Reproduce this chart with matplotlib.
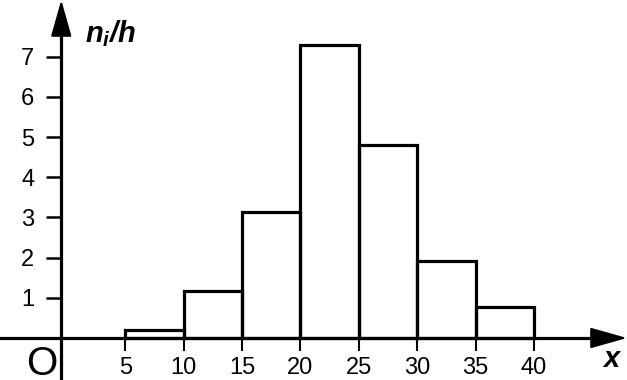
import matplotlib
matplotlib.use('Agg')
import matplotlib.pyplot as plt
import numpy as np

# histogram data
edges = [5, 10, 15, 20, 25, 30, 35, 40]
heights = [0.2, 1.18, 3.13, 7.3, 4.8, 1.92, 0.76]
yticks = [1, 2, 3, 4, 5, 6, 7]

plt.rcParams['font.family'] = ['Liberation Sans', 'DejaVu Sans']
plt.rcParams['mathtext.fontset'] = 'custom'
plt.rcParams['mathtext.it'] = 'Liberation Sans:bold:italic'
plt.rcParams['mathtext.rm'] = 'Liberation Sans:bold:italic'

fig = plt.figure(figsize=(6.27, 3.8), dpi=100)
ax = fig.add_axes([0, 0, 1, 1])
ax.patch.set_alpha(0)

ax.set_xlim(-5.75, 47.98)
ax.set_ylim(-1.045, 8.41)

ax.bar(edges[:-1], heights, width=np.diff(edges), align='edge',
       fill=False, edgecolor='black', linewidth=2.3)

for s in ['top', 'right']:
    ax.spines[s].set_visible(False)
ax.spines['left'].set_position(('data', -0.5))
ax.spines['bottom'].set_position(('data', 0))
ax.spines['left'].set_linewidth(2.3)
ax.spines['bottom'].set_linewidth(2.3)
ax.spines['left'].set_bounds(-1.045, 7.8)
ax.spines['bottom'].set_bounds(-5.75, 45.5)

ax.set_xticks(edges)
ax.set_yticks(yticks)
ax.tick_params(axis='x', direction='out', length=9, width=1.5, pad=5, labelsize=17)
ax.tick_params(axis='y', direction='out', length=10.5, width=1.8, pad=9, labelsize=17)

arrow = dict(arrowstyle='-|>,head_length=2.3,head_width=0.65', color='black',
             lw=1.5, shrinkA=0, shrinkB=0, mutation_scale=10)
ax.annotate('', xy=(-0.5, 8.41), xytext=(-0.5, 7.6), arrowprops=arrow)
ax.annotate('', xy=(47.98, 0), xytext=(45, 0), arrowprops=arrow)

ax.text(-2.19, -0.93, 'O', fontsize=29, ha='center', va='baseline')
ax.text(46.7, -0.72, r'$x$', fontsize=21, ha='center', va='baseline')
ax.text(1.53, 7.36, r'$n_i\mathit{/}h$', fontsize=21, ha='left', va='baseline')

fig.savefig('out.png', dpi=100)
